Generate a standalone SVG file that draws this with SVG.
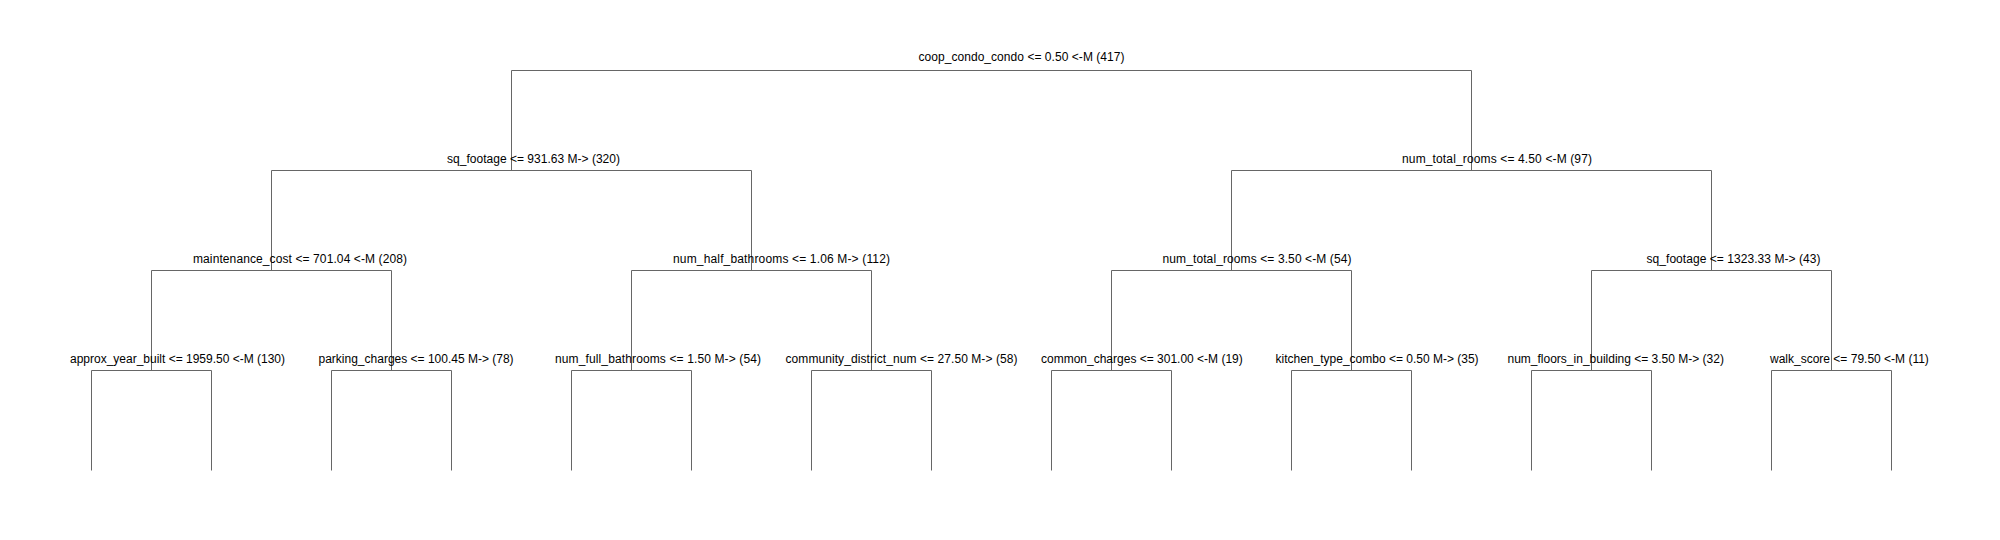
<svg xmlns="http://www.w3.org/2000/svg" width="2000" height="540" viewBox="0 0 2000 540">
<style>
.lbl{font-family:"Liberation Sans",Arial,sans-serif;font-size:12px;fill:#000}
.edge{fill:none;stroke:#666;stroke-width:1}
</style>
<rect width="2000" height="540" fill="#fff"/>
<g id="connectors" class="edge">
<path d="M511.5 70.5H1471.5M511.5 70.5V170.5M1471.5 70.5V170.5"/>
<path d="M271.5 170.5H751.5M271.5 170.5V270.5M751.5 170.5V270.5"/>
<path d="M1231.5 170.5H1711.5M1231.5 170.5V270.5M1711.5 170.5V270.5"/>
<path d="M151.5 270.5H391.5M151.5 270.5V370.5M391.5 270.5V370.5"/>
<path d="M631.5 270.5H871.5M631.5 270.5V370.5M871.5 270.5V370.5"/>
<path d="M1111.5 270.5H1351.5M1111.5 270.5V370.5M1351.5 270.5V370.5"/>
<path d="M1591.5 270.5H1831.5M1591.5 270.5V370.5M1831.5 270.5V370.5"/>
<path d="M91.5 370.5H211.5M91.5 370.5V470.5M211.5 370.5V470.5"/>
<path d="M331.5 370.5H451.5M331.5 370.5V470.5M451.5 370.5V470.5"/>
<path d="M571.5 370.5H691.5M571.5 370.5V470.5M691.5 370.5V470.5"/>
<path d="M811.5 370.5H931.5M811.5 370.5V470.5M931.5 370.5V470.5"/>
<path d="M1051.5 370.5H1171.5M1051.5 370.5V470.5M1171.5 370.5V470.5"/>
<path d="M1291.5 370.5H1411.5M1291.5 370.5V470.5M1411.5 370.5V470.5"/>
<path d="M1531.5 370.5H1651.5M1531.5 370.5V470.5M1651.5 370.5V470.5"/>
<path d="M1771.5 370.5H1891.5M1771.5 370.5V470.5M1891.5 370.5V470.5"/>
</g>
<g id="n_root"><text class="lbl" x="918.5" y="61" textLength="206">coop_condo_condo &lt;= 0.50 &lt;-M (417)</text></g>
<g id="n_l1a"><text class="lbl" x="447" y="163" textLength="173">sq_footage &lt;= 931.63 M-&gt; (320)</text></g>
<g id="n_l1b"><text class="lbl" x="1402" y="163" textLength="190">num_total_rooms &lt;= 4.50 &lt;-M (97)</text></g>
<g id="n_l2a"><text class="lbl" x="193" y="263" textLength="214">maintenance_cost &lt;= 701.04 &lt;-M (208)</text></g>
<g id="n_l2b"><text class="lbl" x="673" y="263" textLength="217">num_half_bathrooms &lt;= 1.06 M-&gt; (112)</text></g>
<g id="n_l2c"><text class="lbl" x="1162.5" y="263" textLength="189">num_total_rooms &lt;= 3.50 &lt;-M (54)</text></g>
<g id="n_l2d"><text class="lbl" x="1646.5" y="263" textLength="174">sq_footage &lt;= 1323.33 M-&gt; (43)</text></g>
<g id="n_l3a"><text class="lbl" x="70" y="363" textLength="215">approx_year_built &lt;= 1959.50 &lt;-M (130)</text></g>
<g id="n_l3b"><text class="lbl" x="318.5" y="363">parking_charges &lt;= 100.45 M-&gt; (78)</text></g>
<g id="n_l3c"><text class="lbl" x="555" y="363" textLength="206">num_full_bathrooms &lt;= 1.50 M-&gt; (54)</text></g>
<g id="n_l3d"><text class="lbl" x="785.5" y="363" textLength="232">community_district_num &lt;= 27.50 M-&gt; (58)</text></g>
<g id="n_l3e"><text class="lbl" x="1041" y="363">common_charges &lt;= 301.00 &lt;-M (19)</text></g>
<g id="n_l3f"><text class="lbl" x="1275.5" y="363">kitchen_type_combo &lt;= 0.50 M-&gt; (35)</text></g>
<g id="n_l3g"><text class="lbl" x="1507.5" y="363">num_floors_in_building &lt;= 3.50 M-&gt; (32)</text></g>
<g id="n_l3h"><text class="lbl" x="1770" y="363">walk_score &lt;= 79.50 &lt;-M (11)</text></g>
</svg>
